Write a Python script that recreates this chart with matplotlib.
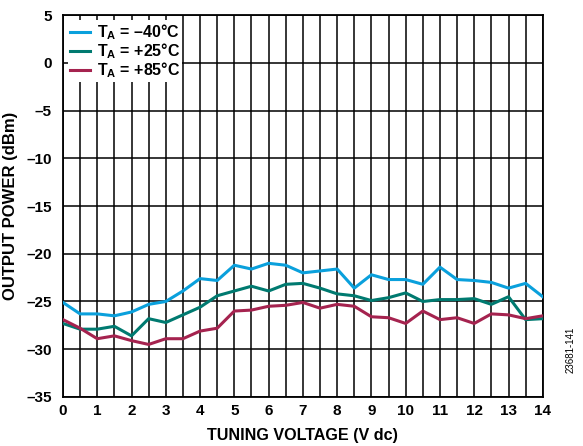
import numpy as np
import matplotlib
matplotlib.use("Agg")
import matplotlib.pyplot as plt

plt.rcParams['font.family'] = ['Liberation Sans', 'DejaVu Sans']
plt.rcParams['font.weight'] = 'bold'
plt.rcParams['mathtext.fontset'] = 'custom'
plt.rcParams['mathtext.rm'] = 'Liberation Sans:bold'
plt.rcParams['mathtext.it'] = 'Liberation Sans:bold'
plt.rcParams['mathtext.bf'] = 'Liberation Sans:bold'

# tuning voltage, 0 to 14 V in 0.5 V steps
voltage = np.arange(0, 14.01, 0.5)

pout_m40 = [-25.1, -26.3, -26.3, -26.5, -26.1, -25.3, -25.0, -23.9, -22.6, -22.8,
            -21.2, -21.6, -21.0, -21.2, -22.0, -21.8, -21.6, -23.6, -22.2, -22.7,
            -22.7, -23.2, -21.4, -22.7, -22.8, -23.0, -23.6, -23.1, -24.5]
pout_p25 = [-27.3, -27.9, -27.9, -27.6, -28.6, -26.8, -27.2, -26.4, -25.6, -24.4,
            -23.9, -23.4, -23.9, -23.2, -23.1, -23.6, -24.2, -24.4, -24.9, -24.6,
            -24.1, -25.0, -24.8, -24.8, -24.7, -25.3, -24.5, -26.9, -26.8]
pout_p85 = [-26.9, -27.8, -28.9, -28.6, -29.1, -29.5, -28.9, -28.9, -28.1, -27.8,
            -26.0, -25.9, -25.5, -25.4, -25.1, -25.7, -25.3, -25.5, -26.6, -26.7,
            -27.3, -26.0, -26.9, -26.7, -27.3, -26.3, -26.4, -26.8, -26.5]

labels = [r'T$_\mathrm{A}$ = –40°C', r'T$_\mathrm{A}$ = +25°C', r'T$_\mathrm{A}$ = +85°C']
colors = ['#0AA0DC', '#007A70', '#A5234F']

xticks = list(range(0, 15))
yticks = list(range(-35, 6, 5))
ytick_labels = [str(v).replace('-', '–') for v in yticks]

fig = plt.figure(figsize=(5.83, 4.46), dpi=100)
ax = fig.add_axes([0.108, 0.110, 0.823, 0.856])

for y, lab, c in zip([pout_m40, pout_p25, pout_p85], labels, colors):
    ax.plot(voltage, y, color=c, lw=2.2, label=lab, zorder=3)

ax.set_xlim(0, 14)
ax.set_ylim(-35, 5)
ax.set_xticks(xticks)
ax.set_xticks(np.arange(0, 14.01, 0.5), minor=True)
ax.set_yticks(yticks)
ax.set_yticklabels(ytick_labels)
ax.grid(True, which='both', axis='x', color='black', lw=1.1)
ax.grid(True, which='major', axis='y', color='black', lw=1.1)
ax.tick_params(which='both', length=0, labelsize=11, pad=5)
ax.tick_params(axis='y', pad=8)
for s in ax.spines.values():
    s.set_linewidth(1.3)

ax.set_xlabel('TUNING VOLTAGE (V dc)', fontsize=11.6, fontweight='bold', labelpad=7)
ax.set_ylabel('OUTPUT POWER (dBm)', fontsize=12, fontweight='bold', labelpad=6)

leg = ax.legend(loc='upper left', fontsize=11.5, frameon=True, fancybox=False,
                edgecolor='none', framealpha=1, handlelength=1.25, handletextpad=0.4,
                labelspacing=-0.05, borderpad=0.15, borderaxespad=0.3)
leg.get_frame().set_linewidth(0)

fig.text(0.978, 0.215, '23681-141', rotation=90, fontsize=7, fontweight='normal',
         ha='center', va='center')

fig.savefig('out.png', dpi=100)
